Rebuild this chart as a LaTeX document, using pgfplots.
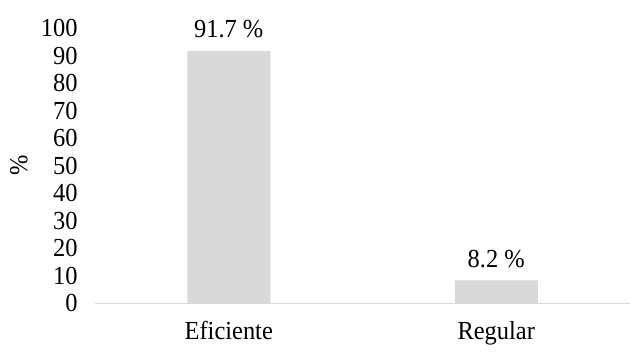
\documentclass[border=0pt]{standalone}
\usepackage{fontspec}
\setmainfont{Liberation Serif}[FakeStretch=0.94]
\usepackage{pgfplots}
\pgfplotsset{compat=1.18}
\definecolor{barg}{HTML}{D9D9D9}
\begin{document}
\begin{tikzpicture}[font=\fontsize{26bp}{30bp}\selectfont]
\path[use as bounding box] (-95bp,-51bp) rectangle (544bp,303bp);
\begin{axis}[
  at={(0,0)}, anchor=south west,
  scale only axis, width=535bp, height=275bp,
  ymin=0, ymax=100, xmin=-0.5, xmax=1.5,
  ytick={0,10,...,100},
  xtick={0,1}, xticklabels={Eficiente,Regular},
  axis x line*=bottom, axis y line*=left,
  x axis line style={draw=barg, line width=1pt, -},
  y axis line style={draw=none},
  major tick length=0pt,
  yticklabel style={anchor=east, xshift=-14bp},
  xticklabel style={anchor=north, yshift=-15bp},
  /pgf/number format/assume math mode=true,
  ybar, bar width=83bp,
  nodes near coords={\pgfmathprintnumber[fixed,precision=1]{\pgfplotspointmeta} \%},
  nodes near coords style={anchor=south, yshift=9bp},
  clip=false,
]
\addplot[fill=barg, draw=none] coordinates {(0,91.7) (1,8.2)};
\end{axis}
\node[rotate=90] at (-76bp,137.5bp) {\%};
\end{tikzpicture}
\end{document}
